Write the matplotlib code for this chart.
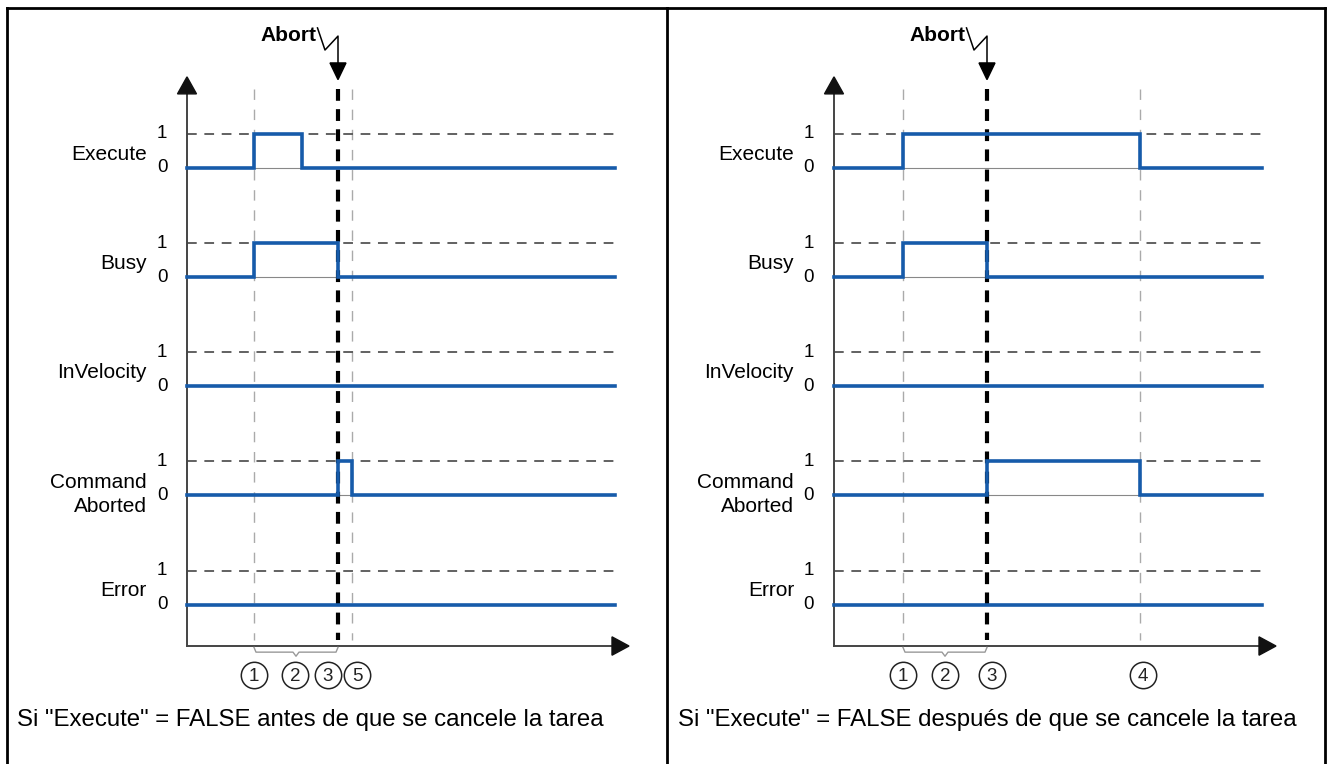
import matplotlib
matplotlib.use('Agg')
import matplotlib.pyplot as plt
import numpy as np

plt.rcParams['font.family'] = ['Liberation Sans', 'DejaVu Sans']
plt.rcParams['lines.scale_dashes'] = False

# signal names (top to bottom)
signals = ['Execute', 'Busy', 'InVelocity', 'Command\nAborted', 'Error']

# time axis runs 0 .. t_end (arbitrary units)
t_end = 42.8

# toggle times of each signal (starts at 0)
left_edges = [[6.7, 11.5], [6.7, 15.1], [], [15.1, 16.5], []]
right_edges = [[6.9, 30.6], [6.9, 15.3], [], [15.3, 30.6], []]

# abort moment and thin guide lines
left_abort = 15.1
right_abort = 15.3
left_guides = [6.7, 16.5]
right_guides = [6.9, 30.6]

# circled numbers under the time axis
left_marks = ['1', '2', '3', '5']
left_mark_t = [6.7, 10.8, 14.1, 17.0]
right_marks = ['1', '2', '3', '4']
right_mark_t = [6.9, 11.1, 15.8, 30.9]

left_caption = 'Si "Execute" = FALSE antes de que se cancele la tarea'
right_caption = 'Si "Execute" = FALSE después de que se cancele la tarea'

BLUE = '#165baa'
ROW = 3.21
Y_TOP = 2.32
Y_AXIS = -14.06
Y_GUIDE_END = -13.88
Y_MARK = -14.9


def draw_panel(ax, edges, abort_t, guides, marks, mark_t, caption, cap_x):
    # y axis / x axis with arrow heads
    ax.plot([0, 0], [Y_AXIS, 2.2], color='#444444', lw=1.4, zorder=2)
    ax.plot([0, 42.6], [Y_AXIS, Y_AXIS], color='#444444', lw=1.4, zorder=2)
    ax.fill([-0.95, 0.95, 0], [2.18, 2.18, 2.68], color='#111111', zorder=3)
    ax.fill([42.5, 42.5, 44.2], [Y_AXIS + 0.27, Y_AXIS - 0.27, Y_AXIS],
            color='#111111', zorder=3)

    # thin grey guides
    for g in guides:
        ax.plot([g, g], [Y_TOP, Y_GUIDE_END], color='#aaaaaa', lw=1.0,
                dashes=(7.5, 7), zorder=1)

    for k, (name, ed) in enumerate(zip(signals, edges)):
        base = -k * ROW
        # 1-level dashed line and 0 baseline
        ax.plot([0, t_end], [base + 1, base + 1], color='#555555', lw=1.3,
                dashes=(7, 5.5), zorder=1)
        ax.plot([0, t_end], [base, base], color='#888888', lw=0.8, zorder=1)
        # step signal
        ts = [0] + ed + [t_end]
        vs = [i % 2 for i in range(len(ed) + 1)] + [len(ed) % 2]
        ax.plot(ts, base + np.array(vs), drawstyle='steps-post', color=BLUE,
                lw=2.6, zorder=5, solid_joinstyle='miter')
        # labels
        ax.text(-2.5, base + 1, '1', ha='center', va='center', fontsize=13.5)
        ax.text(-2.5, base, '0', ha='center', va='center', fontsize=13.5)
        dy = 0.02 if '\n' in name else 0.4
        ax.text(-4.0, base + dy, name, ha='right', va='center', fontsize=15,
                linespacing=1.3)

    # abort line, lightning, arrow head
    ax.plot([abort_t, abort_t], [Y_TOP, Y_GUIDE_END], color='black', lw=3.0,
            dashes=(8.5, 6), zorder=4)
    ax.plot([abort_t - 2.05, abort_t - 1.3, abort_t, abort_t],
            [4.12, 3.47, 3.88, 3.05], color='black', lw=1.1, zorder=4)
    ax.fill([abort_t - 0.8, abort_t + 0.8, abort_t], [3.09, 3.09, 2.6],
            color='black', zorder=4)
    ax.text(abort_t - 2.15, 3.91, 'Abort', ha='right', va='center',
            fontsize=15, fontweight='bold')

    # brace from first guide to abort
    a, b = guides[0], abort_t
    m = (a + b) / 2
    ax.plot([a, a + 0.2, m - 0.3, m, m + 0.3, b - 0.2, b],
            [-14.1, -14.24, -14.24, -14.36, -14.24, -14.24, -14.1],
            color='#999999', lw=1.0, zorder=2)

    # circled numbers
    ax.plot(mark_t, [Y_MARK] * len(mark_t), 'o', ms=19, mfc='white',
            mec='#222222', mew=1.1, zorder=3)
    for lab, t in zip(marks, mark_t):
        ax.text(t, Y_MARK - 0.07, lab, ha='center', va='center',
                fontsize=13.5, color='#222222', zorder=4)

    ax.text(cap_x, -16.25, caption, ha='left', va='center', fontsize=17.3)


fig = plt.figure(figsize=(13.31, 7.64), dpi=100)
H = 1 - 8 / 764
ax_l = fig.add_axes([7 / 1331, 0, 660 / 1331, H])
ax_r = fig.add_axes([667 / 1331, 0, 658 / 1331, H])
ax_l.set_xlim(-18.0, 48.0)
ax_r.set_xlim(-16.7, 49.1)
for ax in (ax_l, ax_r):
    ax.set_ylim(-17.53, 4.706)
    ax.set_xticks([])
    ax.set_yticks([])
    ax.patch.set_alpha(0)
    for s in ax.spines.values():
        s.set_linewidth(2.0)
        s.set_color('black')
    ax.spines['bottom'].set_visible(False)
ax_r.spines['left'].set_visible(False)

draw_panel(ax_l, left_edges, left_abort, left_guides, left_marks,
           left_mark_t, left_caption, -17.0)
draw_panel(ax_r, right_edges, right_abort, right_guides, right_marks,
           right_mark_t, right_caption, -15.6)

fig.savefig('out.png', dpi=100, facecolor='white')
